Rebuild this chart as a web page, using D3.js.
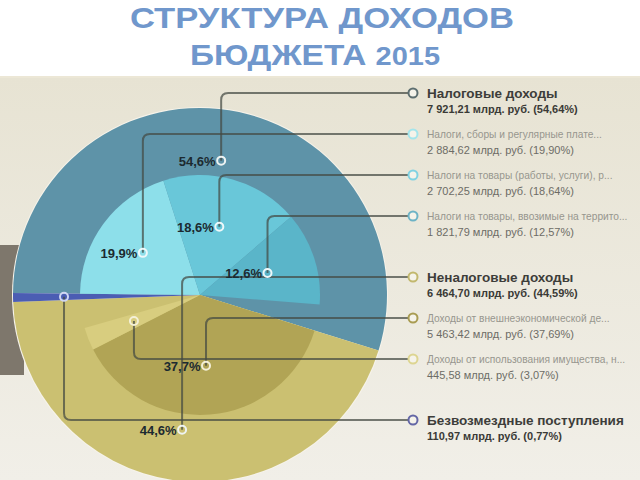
<!DOCTYPE html>
<html><head><meta charset="utf-8">
<script src="https://cdn.jsdelivr.net/npm/d3@7"></script>
<style>html,body{margin:0;padding:0;background:#fff;}svg{display:block;font-family:"Liberation Sans",Arial,sans-serif;}</style>
</head><body>
<script>
const titleLines = ["СТРУКТУРА ДОХОДОВ", "БЮДЖЕТА"];
const titleYear = "2015";

const outerCats = ["Налоговые доходы", "Неналоговые доходы", "Безвозмездные поступления"];
const outerValues = [54.64, 44.59, 0.77];
const outerAmounts = ["7 921,21", "6 464,70", "110,97"];
const outerPctText = ["54,64%", "44,59%", "0,77%"];
const outerLabels = ["54,6%", "44,6%", ""];
const outerColors = ["#5e93a8", "#cbc071", "#4b5db3"];
const outerMarkerColors = ["#5d6e70", "#c2b86e", "#6467a6"];

const innerCats = ["Налоги, сборы и регулярные плате...", "Налоги на товары (работы, услуги), р...", "Налоги на товары, ввозимые на террито...", "Доходы от внешнеэкономической де...", "Доходы от использования имущества, н..."];
const innerParent = [0, 0, 0, 1, 1];
const innerValues = [19.90, 18.64, 12.57, 37.69, 3.07];
const innerAmounts = ["2 884,62", "2 702,25", "1 821,79", "5 463,42", "445,58"];
const innerPctText = ["19,90%", "18,64%", "12,57%", "37,69%", "3,07%"];
const innerLabels = ["19,9%", "18,6%", "12,6%", "37,7%", ""];
const innerColors = ["#8ddfea", "#69c7d9", "#5ab5c9", "#b1a455", "#d8cd7f"];
const innerMarkerColors = ["#a3e5ec", "#80d2e2", "#6db3c6", "#a99c52", "#ddd591"];

const W = 640, H = 480;
const cx = 200, cy = 295, R = 187, r = 120;
const legendX = 413;

const svg = d3.select("body").append("svg").attr("width", W).attr("height", H);
const defs = svg.append("defs");
const grad = defs.append("linearGradient").attr("id", "bg").attr("x1", 0).attr("y1", 0).attr("x2", 0).attr("y2", 1);
grad.append("stop").attr("offset", "0%").attr("stop-color", "#e7e3d3");
grad.append("stop").attr("offset", "100%").attr("stop-color", "#f1efe8");

svg.append("rect").attr("width", W).attr("height", H).attr("fill", "#ffffff");
svg.append("rect").attr("x", 0).attr("y", 77).attr("width", W).attr("height", H - 77).attr("fill", "url(#bg)");
svg.append("rect").attr("x", 0).attr("y", 76).attr("width", W).attr("height", 2).attr("fill", "#ece7d6");
svg.append("rect").attr("x", 0).attr("y", 245).attr("width", 24).attr("height", 130).attr("fill", "#7e776c");

// Title
const title = svg.append("g").attr("fill", "#7097cc").attr("font-weight", "bold").attr("text-anchor", "middle");
title.append("text").attr("x", 322).attr("y", 28).attr("font-size", 30)
  .attr("textLength", 384).attr("lengthAdjust", "spacingAndGlyphs").text(titleLines[0]);
const t2 = title.append("text").attr("x", 315).attr("y", 65).attr("font-size", 30)
  .attr("textLength", 250).attr("lengthAdjust", "spacingAndGlyphs");
t2.append("tspan").text(titleLines[1] + " ");
t2.append("tspan").attr("font-size", 26).text(titleYear);

// Angles
const angle = d3.scaleLinear().domain([0, 100]).range([0, 2 * Math.PI]);
const start0 = -89.4 * Math.PI / 180;
const pie = d3.pie().sort(null).startAngle(start0).endAngle(start0 + 2 * Math.PI);
const outerArcs = pie(outerValues);

const innerArcs = [];
const cursor = outerArcs.map(a => a.startAngle);
innerValues.forEach((v, i) => {
  const p = innerParent[i];
  const s = cursor[p];
  const e = s + angle(v);
  cursor[p] = e;
  innerArcs.push({startAngle: s, endAngle: e, value: v, padAngle: 0});
});

const g = svg.append("g").attr("transform", `translate(${cx},${cy})`);
const arcOuter = d3.arc().innerRadius(0).outerRadius(R);
const arcInner = d3.arc().innerRadius(0).outerRadius(r);
const anchorOuter = d3.arc().innerRadius(136).outerRadius(136);
const anchorInner = d3.arc().innerRadius(71).outerRadius(71);

g.append("circle").attr("r", R + 1).attr("fill", "#f6f3ea");
g.selectAll("path.o").data(outerArcs).join("path").attr("class", "o")
  .attr("d", arcOuter).attr("fill", (d, i) => outerColors[i]);
g.selectAll("path.i").data(innerArcs).join("path").attr("class", "i")
  .attr("d", arcInner).attr("fill", (d, i) => innerColors[i]);

// Legend layout entries
const entries = [];
let ly = 93;
[0, 1, 2].forEach(p => {
  if (p > 0) ly += 20;
  const oc = outerArcs[p];
  const [ax, ay] = anchorOuter.centroid(oc);
  entries.push({main: true, name: outerCats[p], value: `${outerAmounts[p]} млрд. руб. (${outerPctText[p]})`,
    label: outerLabels[p], ax: ax + cx, ay: ay + cy, ly, mcol: outerMarkerColors[p],
    acol: p === 2 ? "#cfd6f2" : "#eef3f2"});
  ly += 41;
  innerValues.forEach((v, i) => {
    if (innerParent[i] !== p) return;
    const [bx, by] = anchorInner.centroid(innerArcs[i]);
    entries.push({main: false, name: innerCats[i], value: `${innerAmounts[i]} млрд. руб. (${innerPctText[i]})`,
      label: innerLabels[i], ax: bx + cx, ay: by + cy, ly, mcol: innerMarkerColors[i],
      acol: p === 0 ? "#eef8fa" : "#f4f0d8"});
    ly += 41;
  });
});

// Leader lines
const cr = 7;
function leader(e) {
  const dir = e.ay > e.ly ? -1 : 1;
  return `M${e.ax},${e.ay} V${e.ly - dir * cr} Q${e.ax},${e.ly} ${e.ax + cr},${e.ly} H${legendX - 4.5}`;
}
svg.append("g").selectAll("path").data(entries).join("path")
  .attr("d", leader).attr("fill", "none").attr("stroke", "#444a42").attr("stroke-opacity", 0.72).attr("stroke-width", 2);

// anchor markers
svg.append("g").selectAll("circle").data(entries).join("circle")
  .attr("cx", d => d.ax).attr("cy", d => d.ay).attr("r", 4)
  .attr("fill", "none").attr("stroke", d => d.acol).attr("stroke-width", 2);

// percent labels
svg.append("g").selectAll("text").data(entries.filter(d => d.label)).join("text")
  .attr("x", d => d.ax - 5.5).attr("y", d => d.ay + 5).attr("text-anchor", "end")
  .attr("font-size", 13).attr("font-weight", "bold").attr("fill", "#1c2a30")
  .text(d => d.label);

// legend
const lg = svg.append("g");
lg.selectAll("circle").data(entries).join("circle")
  .attr("cx", legendX).attr("cy", d => d.ly).attr("r", 4.5)
  .attr("fill", "#f5f3ea").attr("stroke", d => d.mcol).attr("stroke-width", 2);
lg.selectAll("text.n").data(entries).join("text").attr("class", "n")
  .attr("x", 427).attr("y", d => d.ly + (d.main ? 5 : 4))
  .attr("font-size", d => d.main ? 13.5 : 10.2)
  .attr("font-weight", d => d.main ? "bold" : "normal")
  .attr("fill", d => d.main ? "#3d3d3a" : "#97968e")
  .text(d => d.name);
lg.selectAll("text.v").data(entries).join("text").attr("class", "v")
  .attr("x", 427).attr("y", d => d.ly + 20)
  .attr("font-size", 11)
  .attr("font-weight", d => d.main ? "bold" : "normal")
  .attr("fill", d => d.main ? "#3a3a36" : "#6d6c66")
  .text(d => d.value);
</script>
</body></html>
